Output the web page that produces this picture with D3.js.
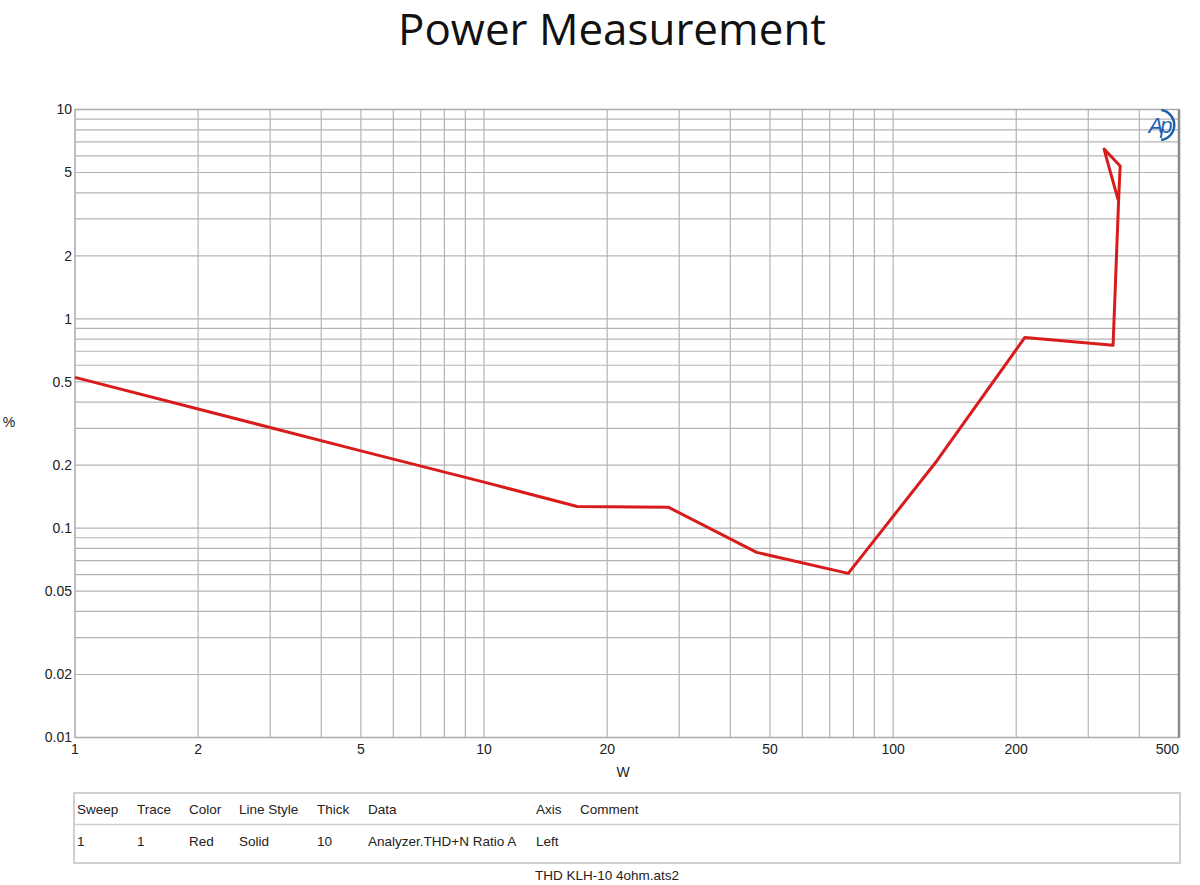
<!DOCTYPE html>
<html lang="en">
<head>
<meta charset="UTF-8"/>
<title>Power Measurement</title>
<script src="https://d3js.org/d3.v7.min.js"></script>
<style>
  body { margin: 0; background: #fff; }
  svg { display: block; font-family: "Liberation Sans", Arial, sans-serif; }
  .grid line { stroke: #b4b4b4; stroke-width: 1.2; }
  .tick-label { font-size: 14px; fill: #222; }
  .trace { fill: none; stroke: #d81c1c; stroke-width: 3; stroke-linejoin: round; }
  .legend text { font-size: 13.5px; fill: #222; }
</style>
</head>
<body>
<script>

// sweep data: output power (W) and THD+N (%)
var powerW = [1, 2, 5, 10, 16.9, 28.2, 46.4, 77.7, 128, 210, 345, 356, 359, 328, 334, 355];
var thdPct = [0.525, 0.371, 0.234, 0.166, 0.127, 0.126, 0.0766, 0.0608, 0.21, 0.815, 0.747, 3.73, 5.37, 6.47, 5.67, 3.7];

// axis ticks
var xTickLabels = [1, 2, 5, 10, 20, 50, 100, 200, 500];
var xGridValues = [2, 3, 4, 5, 6, 7, 8, 9, 10, 20, 30, 40, 50, 60, 70, 80, 90, 100, 200, 300, 400];
var yTickLabels = [10, 5, 2, 1, 0.5, 0.2, 0.1, 0.05, 0.02, 0.01];
var yGridValues = [9, 8, 7, 6, 5, 4, 3, 2, 1, 0.9, 0.8, 0.7, 0.6, 0.5, 0.4, 0.3, 0.2, 0.1,
                   0.09, 0.08, 0.07, 0.06, 0.05, 0.04, 0.03, 0.02];

// legend table
var legendHeader = ["Sweep", "Trace", "Color", "Line Style", "Thick", "Data", "Axis", "Comment"];
var legendRow = ["1", "1", "Red", "Solid", "10", "Analyzer.THD+N Ratio A", "Left", ""];
var legendColX = [77, 137, 189, 239, 317, 368, 536, 580];

var W = 1200, H = 885;
var margin = {top: 109.5, right: 21, bottom: 147.5, left: 75},
    width = W - margin.left - margin.right,
    height = H - margin.top - margin.bottom;

var svg = d3.select("body").append("svg")
    .attr("width", W)
    .attr("height", H);

// title
svg.append("text")
    .attr("x", 612).attr("y", 45)
    .attr("text-anchor", "middle")
    .attr("textLength", 428)
    .attr("lengthAdjust", "spacingAndGlyphs")
    .style("font-family", "'Open Sans', 'Noto Sans', sans-serif")
    .style("font-size", "43px")
    .style("fill", "#111")
    .text("Power Measurement");

var g = svg.append("g")
    .attr("transform", "translate(" + margin.left + "," + margin.top + ")");

var x = d3.scaleLog().domain([1, 500]).range([0, width]);
var y = d3.scaleLog().domain([0.01, 10]).range([height, 0]);

// grid
var grid = g.append("g").attr("class", "grid");
grid.selectAll(".gx").data(xGridValues).enter().append("line")
    .attr("x1", function(d) { return x(d); })
    .attr("x2", function(d) { return x(d); })
    .attr("y1", 0).attr("y2", height);
grid.selectAll(".gy").data(yGridValues).enter().append("line")
    .attr("y1", function(d) { return y(d); })
    .attr("y2", function(d) { return y(d); })
    .attr("x1", 0).attr("x2", width);

// frame
g.append("rect")
    .attr("width", width).attr("height", height)
    .attr("fill", "none").attr("stroke", "#aaa").attr("stroke-width", 1.5);
g.append("line")
    .attr("x1", width).attr("x2", width).attr("y1", 0).attr("y2", height)
    .attr("stroke", "#8a8a8a").attr("stroke-width", 2.5);

// tick labels
g.selectAll(".ylab").data(yTickLabels).enter().append("text")
    .attr("class", "tick-label")
    .attr("x", -3)
    .attr("y", function(d) { return y(d); })
    .attr("dy", "0.35em")
    .attr("text-anchor", "end")
    .text(function(d) { return d; });

g.selectAll(".xlab").data(xTickLabels).enter().append("text")
    .attr("class", "tick-label")
    .attr("x", function(d) { return x(d); })
    .attr("y", height + 16)
    .attr("text-anchor", function(d) { return d === 500 ? "end" : "middle"; })
    .text(function(d) { return d; });

// axis titles
g.append("text").attr("class", "tick-label")
    .attr("x", width / 2 - 4).attr("y", height + 39)
    .attr("text-anchor", "middle").text("W");
svg.append("text").attr("class", "tick-label")
    .attr("x", 9).attr("y", 427)
    .attr("text-anchor", "middle").text("%");

// trace
var pts = powerW.map(function(p, i) { return [p, thdPct[i]]; });
var line = d3.line()
    .x(function(d) { return x(d[0]); })
    .y(function(d) { return y(d[1]); });
g.append("path").datum(pts).attr("class", "trace").attr("d", line);

// AP logo
var logo = svg.append("g").attr("transform", "translate(1159,125)");
logo.append("text")
    .attr("text-anchor", "middle").attr("dy", "0.36em")
    .style("font-family", "'Liberation Sans', Arial, sans-serif")
    .style("font-size", "22px").style("font-style", "italic")
    .style("fill", "#1d5fae").style("letter-spacing", "-3px")
    .text("Ap");
logo.append("path")
    .attr("d", d3.arc()({innerRadius: 14, outerRadius: 16.5, startAngle: 0.15, endAngle: 3.0}))
    .attr("fill", "#1d5fae");

// legend table
var leg = svg.append("g").attr("class", "legend");
leg.append("rect")
    .attr("x", 74).attr("y", 793).attr("width", 1106).attr("height", 70)
    .attr("fill", "none").attr("stroke", "#cfcfcf").attr("stroke-width", 2);
leg.append("line")
    .attr("x1", 74).attr("x2", 1180).attr("y1", 824.5).attr("y2", 824.5)
    .attr("stroke", "#d0d0d0").attr("stroke-width", 1.5);
leg.selectAll(".hd").data(legendHeader).enter().append("text")
    .attr("x", function(d, i) { return legendColX[i]; })
    .attr("y", 814).text(function(d) { return d; });
leg.selectAll(".rw").data(legendRow).enter().append("text")
    .attr("x", function(d, i) { return legendColX[i]; })
    .attr("y", 846).text(function(d) { return d; });

svg.append("text")
    .attr("x", 607).attr("y", 880)
    .attr("text-anchor", "middle")
    .style("font-size", "13.5px").style("fill", "#222")
    .text("THD KLH-10 4ohm.ats2");

</script>
</body>
</html>
